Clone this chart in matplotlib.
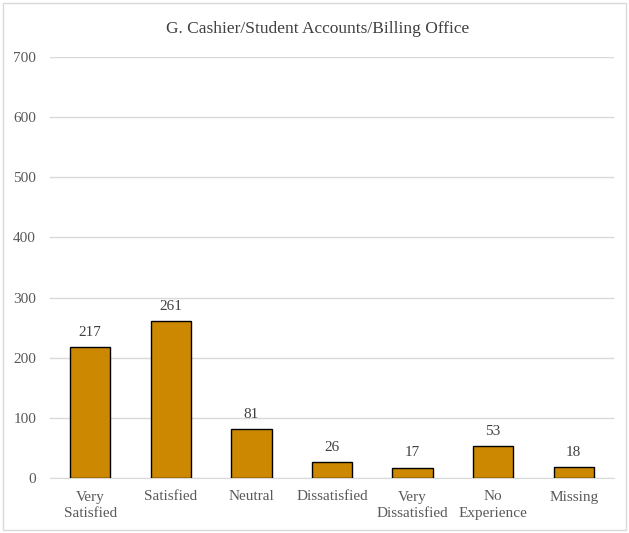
import matplotlib.pyplot as plt
from matplotlib.patches import Rectangle

categories = ["Very\nSatisfied", "Satisfied", "Neutral", "Dissatisfied",
              "Very\nDissatisfied", "No\nExperience", "Missing"]
counts = [217, 261, 81, 26, 17, 53, 18]
yticks = [0, 100, 200, 300, 400, 500, 600, 700]

plt.rcParams['font.family'] = ['Liberation Serif', 'DejaVu Serif']

fig = plt.figure(figsize=(6.29, 5.33), dpi=100)
ax = fig.add_axes([50 / 629, 1 - 478 / 533, 564 / 629, 421 / 533])

x = list(range(len(categories)))
rects = ax.bar(x, counts, width=0.5, color="#CC8800", edgecolor="black",
               linewidth=1.0, zorder=3)
for rect, v in zip(rects, counts):
    ax.annotate(str(v), xy=(rect.get_x() + rect.get_width() / 2, v),
                xytext=(0, 6), textcoords='offset points',
                ha='center', va='bottom', fontsize=11, color="#404040")

ax.set_xlim(-0.5, len(categories) - 0.5)
ax.set_ylim(0, 700)
ax.set_yticks(yticks)
ax.set_xticks(x)
ax.set_xticklabels(categories, fontsize=11, color="#595959", linespacing=1.35)
ax.tick_params(axis='y', labelsize=11, labelcolor="#595959", length=0, pad=10)
ax.tick_params(axis='x', length=0, pad=9)
ax.grid(axis='y', color="#D9D9D9", linewidth=1.0, zorder=0)
for s in ['top', 'right', 'left']:
    ax.spines[s].set_visible(False)
ax.spines['bottom'].set_color("#D9D9D9")

fig.text(318 / 629, 1 - 29 / 533, "G. Cashier/Student Accounts/Billing Office",
         ha='center', va='center', fontsize=12.5, color="#404040")

fig.patches.append(Rectangle((3 / 629, 3 / 533), 623 / 629, 527 / 533,
                             transform=fig.transFigure, fill=False,
                             edgecolor="#D9D9D9", linewidth=1.0))

fig.savefig("out.png", dpi=100)
